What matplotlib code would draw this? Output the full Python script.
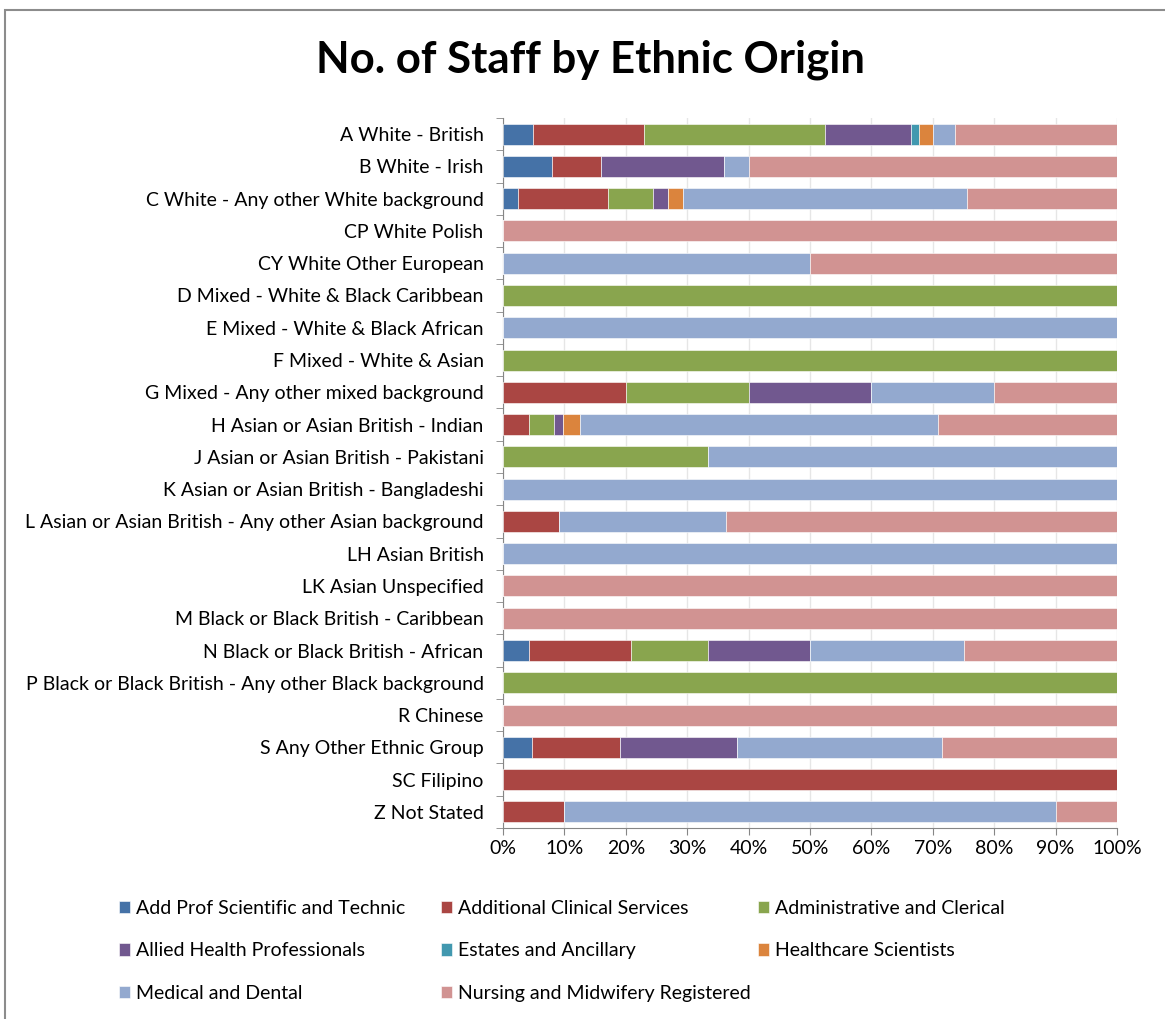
import numpy as np
import matplotlib.pyplot as plt
from matplotlib.patches import Rectangle

# Ethnic origin groups, top to bottom
groups = [
    "A White - British",
    "B White - Irish",
    "C White - Any other White background",
    "CP White Polish",
    "CY White Other European",
    "D Mixed - White & Black Caribbean",
    "E Mixed - White & Black African",
    "F Mixed - White & Asian",
    "G Mixed - Any other mixed background",
    "H Asian or Asian British - Indian",
    "J Asian or Asian British - Pakistani",
    "K Asian or Asian British - Bangladeshi",
    "L Asian or Asian British - Any other Asian background",
    "LH Asian British",
    "LK Asian Unspecified",
    "M Black or Black British - Caribbean",
    "N Black or Black British - African",
    "P Black or Black British - Any other Black background",
    "R Chinese",
    "S Any Other Ethnic Group",
    "SC Filipino",
    "Z Not Stated",
]

staff_groups = [
    "Add Prof Scientific and Technic",
    "Additional Clinical Services",
    "Administrative and Clerical",
    "Allied Health Professionals",
    "Estates and Ancillary",
    "Healthcare Scientists",
    "Medical and Dental",
    "Nursing and Midwifery Registered",
]

colors = ["#4572A7", "#AA4643", "#89A54E", "#71588F",
          "#4198AF", "#DB843D", "#93A9CF", "#D19392"]

# share of staff (%) per staff group, one list per staff group, in order of groups
add_prof = [4.9, 8.0, 2.44, 0, 0, 0, 0, 0, 0, 0, 0, 0, 0, 0, 0, 0, 4.17, 0, 0, 4.76, 0, 0]
add_clin = [18.0, 8.0, 14.63, 0, 0, 0, 0, 0, 20, 4.17, 0, 0, 9.09, 0, 0, 0, 16.67, 0, 0, 14.29, 100, 10]
admin = [29.6, 0, 7.32, 0, 0, 100, 0, 100, 20, 4.17, 33.33, 0, 0, 0, 0, 0, 12.5, 100, 0, 0, 0, 0]
allied = [14.0, 20.0, 2.44, 0, 0, 0, 0, 0, 20, 1.39, 0, 0, 0, 0, 0, 0, 16.67, 0, 0, 19.05, 0, 0]
estates = [1.3, 0, 0, 0, 0, 0, 0, 0, 0, 0, 0, 0, 0, 0, 0, 0, 0, 0, 0, 0, 0, 0]
hc_sci = [2.3, 0, 2.44, 0, 0, 0, 0, 0, 0, 2.78, 0, 0, 0, 0, 0, 0, 0, 0, 0, 0, 0, 0]
med_dent = [3.5, 4.0, 46.34, 0, 50, 0, 100, 0, 20, 58.33, 66.67, 100, 27.27, 100, 0, 0, 25.0, 0, 0, 33.33, 0, 80]
nursing = [26.4, 60.0, 24.39, 100, 50, 0, 0, 0, 20, 29.17, 0, 0, 63.64, 0, 100, 100, 25.0, 0, 100, 28.57, 0, 10]

series = [add_prof, add_clin, admin, allied, estates, hc_sci, med_dent, nursing]

plt.rcParams['font.family'] = ['Lato', 'DejaVu Sans']

fig = plt.figure(figsize=(11.65, 10.19), dpi=100)
ax = fig.add_axes([503 / 1165, 1 - 828 / 1019, 614 / 1165, 710 / 1019])

y = np.arange(len(groups))
left = np.zeros(len(groups))
handles = []
for name, vals, c in zip(staff_groups, series, colors):
    vals = np.array(vals, dtype=float)
    b = ax.barh(y, vals, left=left, height=0.65, color=c,
                edgecolor='white', linewidth=0.4, label=name, zorder=3)
    handles.append(b)
    left += vals

ax.set_ylim(len(groups) - 0.5, -0.5)
ax.set_xlim(0, 100)
ax.set_xticks(np.arange(0, 101, 10))
ax.set_xticklabels([f"{v}%" for v in range(0, 101, 10)], fontsize=14)
ax.set_yticks(y)
ax.set_yticklabels(groups, fontsize=14)
ax.tick_params(axis='y', length=0, pad=14)
ax.set_yticks(np.arange(-0.5, len(groups)), minor=True)
ax.tick_params(axis='y', which='minor', length=5, color='#868686')
ax.tick_params(axis='x', length=5, color='#868686', pad=4)
ax.grid(axis='x', color='#E6E6E6', linewidth=1, zorder=0)
for s in ['top', 'right']:
    ax.spines[s].set_visible(False)
for s in ['left', 'bottom']:
    ax.spines[s].set_color('#868686')

fig.text(590 / 1165, 1 - 60 / 1019, "No. of Staff by Ethnic Origin",
         ha='center', va='center', fontsize=31.5, fontweight='bold')

# legend laid out row by row, three columns
col_x = [111, 433, 750]
for col in range(3):
    idx = list(range(col, len(staff_groups), 3))
    fig.legend(handles=[handles[i] for i in idx],
               labels=[staff_groups[i] for i in idx],
               loc='upper left', bbox_to_anchor=(col_x[col] / 1165, 1 - 892 / 1019),
               frameon=False, fontsize=14, handlelength=0.6, handleheight=0.6,
               handletextpad=0.3, labelspacing=1.32, borderaxespad=0)

# chart area border
fig.patches.append(Rectangle((5 / 1165, -0.01), 1.02, 1 - 10 / 1019 + 0.01,
                             transform=fig.transFigure, fill=False,
                             edgecolor='#8C8C8C', linewidth=1.5))

fig.savefig("out.png", dpi=100)
